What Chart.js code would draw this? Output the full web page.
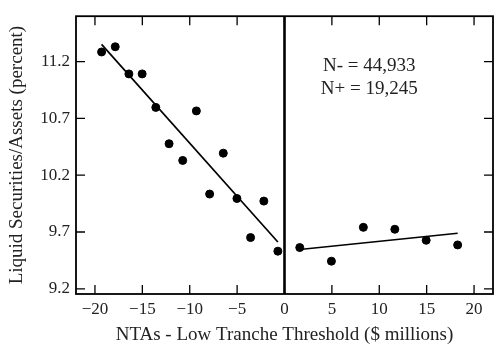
<!DOCTYPE html>
<html>
<head>
<meta charset="utf-8">
<script src="https://cdn.jsdelivr.net/npm/chart.js@4"></script>
<style>
  html, body { margin: 0; padding: 0; background: #fff; }
  #wrap { width: 500px; height: 349px; }
</style>
</head>
<body>
<div id="wrap"><canvas id="c" width="500" height="349"></canvas></div>
<script>
// ---- data ----
const leftX  = [-19.3, -17.86, -16.42, -15.02, -13.58, -12.18, -10.74, -9.3, -7.9, -6.46, -5.02, -3.58, -2.18, -0.7];
const leftY  = [11.285, 11.331, 11.092, 11.092, 10.797, 10.477, 10.33, 10.766, 10.034, 10.394, 9.995, 9.651, 9.972, 9.531];
const rightX = [1.61, 4.95, 8.32, 11.64, 14.95, 18.27];
const rightY = [9.563, 9.443, 9.741, 9.724, 9.627, 9.586];
const leftFitX  = [-19.3, -0.7];
const leftFitY  = [11.352, 9.612];
const rightFitX = [1.61, 18.27];
const rightFitY = [9.546, 9.689];
const xTicks = [-20, -15, -10, -5, 0, 5, 10, 15, 20];
const yTicks = [9.2, 9.7, 10.2, 10.7, 11.2];
const annotationLines = ['N- = 44,933', 'N+ = 19,245'];
const xTitle = 'NTAs - Low Tranche Threshold ($ millions)';
const yTitle = 'Liquid Securities/Assets (percent)';

const pts = (xs, ys) => xs.map((x, i) => ({ x: x, y: ys[i] }));
const FONT = "'Liberation Serif', 'DejaVu Serif', serif";

const framePlugin = {
  id: 'frame',
  afterDatasetsDraw(chart) {
    const { ctx, chartArea: a, scales } = chart;
    const xs = scales.x, ys = scales.y;
    ctx.save();
    ctx.strokeStyle = '#000';
    // vertical threshold line at x = 0
    const x0 = xs.getPixelForValue(0);
    ctx.lineWidth = 2.6;
    ctx.beginPath(); ctx.moveTo(x0, a.top); ctx.lineTo(x0, a.bottom); ctx.stroke();
    // inward ticks
    const tl = 9;
    ctx.lineWidth = 1.3;
    ctx.beginPath();
    xTicks.forEach(v => {
      const px = xs.getPixelForValue(v);
      ctx.moveTo(px, a.bottom); ctx.lineTo(px, a.bottom - tl);
      ctx.moveTo(px, a.top); ctx.lineTo(px, a.top + tl);
    });
    yTicks.forEach(v => {
      const py = ys.getPixelForValue(v);
      ctx.moveTo(a.left, py); ctx.lineTo(a.left + tl, py);
      ctx.moveTo(a.right, py); ctx.lineTo(a.right - tl, py);
    });
    ctx.stroke();
    // frame
    ctx.lineWidth = 1.8;
    ctx.strokeRect(a.left, a.top, a.right - a.left, a.bottom - a.top);
    // annotation
    ctx.fillStyle = '#222';
    ctx.font = "19px " + FONT;
    ctx.textAlign = 'center';
    ctx.textBaseline = 'middle';
    const ax = xs.getPixelForValue(8.95);
    ctx.fillText(annotationLines[0], ax, ys.getPixelForValue(11.16));
    ctx.fillText(annotationLines[1], ax, ys.getPixelForValue(10.96));
    ctx.restore();
  }
};

new Chart(document.getElementById('c'), {
  type: 'scatter',
  data: {
    datasets: [
      { data: pts(leftX, leftY), backgroundColor: '#000', borderColor: '#000', pointRadius: 4, showLine: false },
      { data: pts(rightX, rightY), backgroundColor: '#000', borderColor: '#000', pointRadius: 4, showLine: false },
      { data: pts(leftFitX, leftFitY), borderColor: '#000', borderWidth: 1.7, pointRadius: 0, showLine: true },
      { data: pts(rightFitX, rightFitY), borderColor: '#000', borderWidth: 1.7, pointRadius: 0, showLine: true }
    ]
  },
  options: {
    responsive: false,
    animation: false,
    events: [],
    layout: { padding: { top: 15, right: 7, left: 0, bottom: 0 } },
    plugins: { legend: { display: false }, tooltip: { enabled: false } },
    scales: {
      x: {
        type: 'linear', min: -22, max: 22,
        grid: { display: false, drawTicks: false },
        border: { display: false },
        afterBuildTicks: s => { s.ticks = xTicks.map(v => ({ value: v })); },
        afterFit: s => { s.height = 55; },
        ticks: {
          color: '#222', padding: 5,
          font: { family: FONT, size: 17 },
          callback: v => (v < 0 ? '\u2212' + Math.abs(v) : String(v))
        },
        title: { display: true, text: xTitle, color: '#222', font: { family: FONT, size: 19 }, padding: { top: 0, bottom: 3 } }
      },
      y: {
        type: 'linear', min: 9.154, max: 11.6,
        grid: { display: false, drawTicks: false },
        border: { display: false },
        afterBuildTicks: s => { s.ticks = yTicks.map(v => ({ value: v })); },
        afterFit: s => { s.width = 76; },
        ticks: {
          color: '#222', padding: 6,
          font: { family: FONT, size: 17 },
          callback: v => Number(v).toFixed(1)
        },
        title: { display: true, text: yTitle, color: '#222', font: { family: FONT, size: 19 }, padding: { top: 6, bottom: 0 } }
      }
    }
  },
  plugins: [framePlugin]
});
</script>
</body>
</html>
